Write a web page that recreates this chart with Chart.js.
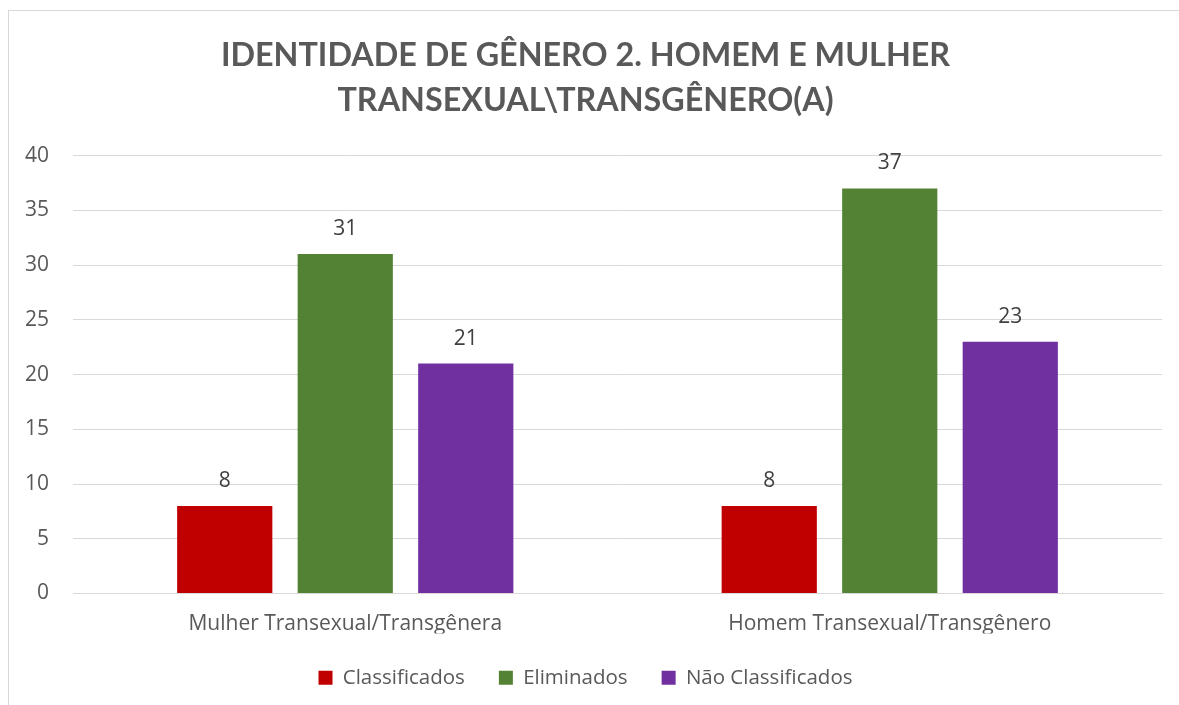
<!DOCTYPE html>
<html>
<head>
<meta charset="utf-8">
<script src="https://cdn.jsdelivr.net/npm/chart.js@4"></script>
<style>
  html, body { margin: 0; padding: 0; background: #fff; overflow: hidden; }
  #wrap {
    position: absolute; left: 8px; top: 10px; width: 1171px; height: 711px;
    border-left: 1px solid #d9d9d9; border-top: 1px solid #d9d9d9;
  }
  canvas { display: block; }
</style>
</head>
<body>
<div id="wrap"><canvas id="chart" width="1170" height="687"></canvas></div>
<script>
const categories = ["Mulher Transexual/Transgênera", "Homem Transexual/Transgênero"];
const seriesNames = ["Classificados", "Eliminados", "Não Classificados"];
const classificados = [8, 8];
const eliminados = [31, 37];
const naoClassificados = [21, 23];
const colors = ["#C00000", "#548235", "#7030A0"];
const titleLines = ["IDENTIDADE DE GÊNERO 2. HOMEM E MULHER", "TRANSEXUAL\\TRANSGÊNERO(A)"];

const titleFont = "Lato, 'Open Sans', sans-serif";
const textFont = "'Open Sans', Lato, sans-serif";

// draws the value above each bar
const valueLabels = {
  id: "valueLabels",
  afterDatasetsDraw(chart) {
    const ctx = chart.ctx;
    ctx.save();
    ctx.font = "21px " + textFont;
    ctx.fillStyle = "#404040";
    ctx.textAlign = "center";
    ctx.textBaseline = "middle";
    chart.data.datasets.forEach((ds, i) => {
      chart.getDatasetMeta(i).data.forEach((bar, j) => {
        ctx.fillText(ds.data[j], bar.x, bar.y - 25);
      });
    });
    ctx.restore();
  }
};

const ctx = document.getElementById("chart").getContext("2d");
new Chart(ctx, {
  type: "bar",
  data: {
    labels: categories,
    datasets: [
      { label: seriesNames[0], data: classificados, backgroundColor: colors[0] },
      { label: seriesNames[1], data: eliminados, backgroundColor: colors[1] },
      { label: seriesNames[2], data: naoClassificados, backgroundColor: colors[2] }
    ]
  },
  options: {
    responsive: false,
    animation: false,
    categoryPercentage: 0.664,
    barPercentage: 0.79,
    layout: { padding: { left: 0, right: 17, top: 21.6, bottom: 0 } },
    plugins: {
      title: {
        display: true,
        text: titleLines,
        color: "#595959",
        font: { family: titleFont, size: 32.3, weight: "bold", lineHeight: 1.4 },
        padding: { top: 0, bottom: 32.5 }
      },
      legend: {
        position: "bottom",
        labels: {
          color: "#595959",
          font: { family: textFont, size: 20.5 },
          boxWidth: 14,
          boxHeight: 14,
          padding: 34
        }
      },
      tooltip: { enabled: false }
    },
    scales: {
      x: {
        grid: { display: false, drawTicks: false },
        border: { color: "#d9d9d9" },
        ticks: { color: "#595959", font: { family: textFont, size: 21 }, padding: 18 },
        afterFit(scale) { scale.height = 40; }
      },
      y: {
        min: 0,
        max: 40,
        ticks: { stepSize: 5, color: "#595959", font: { family: textFont, size: 21 }, padding: 24 },
        grid: { color: "#d9d9d9", drawTicks: false },
        border: { display: false },
        afterFit(scale) { scale.width = 64; }
      }
    }
  },
  plugins: [valueLabels]
});
</script>
</body>
</html>
